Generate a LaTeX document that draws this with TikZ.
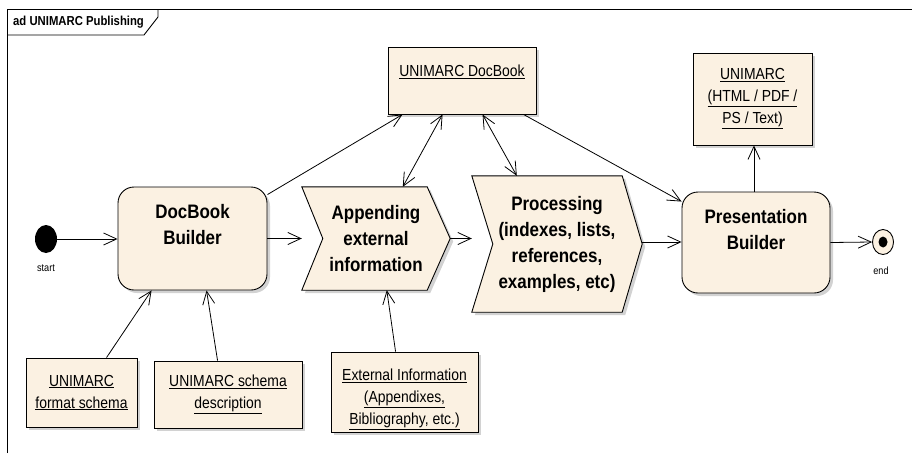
\documentclass[tikz,border=0pt]{standalone}
\usepackage{fontspec}
\setmainfont{Liberation Sans}[FakeStretch=0.87]
\usepackage{xcolor}
\usetikzlibrary{arrows.meta, shapes.geometric, shadows, backgrounds}

\definecolor{actfill}{RGB}{251,241,226}

\begin{document}
\begin{tikzpicture}[x=1pt, y=-1pt,
  every node/.style={inner sep=0pt},
  shade/.style={drop shadow={shadow xshift=3pt, shadow yshift=-3pt, fill=black!35}},
  act/.style={draw, fill=actfill, line width=0.9pt, rounded corners=16pt, shade},
  chev/.style={draw, fill=actfill, line width=0.9pt, shade},
  obj/.style={draw, fill=actfill, line width=0.9pt, align=center, shade,
    font=\fontsize{16}{22}\selectfont},
  objtxt/.style={align=center, font=\fontsize{16}{22}\selectfont},
  big/.style={align=center, font=\bfseries\fontsize{19.5}{26}\selectfont},
  small/.style={font=\fontsize{10.5}{12}\selectfont},
  flow/.style={line width=0.8pt, -{Straight Barb[length=13pt,width=12pt]}},
  both/.style={line width=0.8pt, {Straight Barb[length=13pt,width=12pt]}-{Straight Barb[length=13pt,width=12pt]}},
]
\useasboundingbox (0,0) rectangle (912,453);

% frame and its tab
\draw[line width=0.9pt] (7,453) -- (7,9) -- (912,9);
\draw[line width=0.9pt] (7,35) -- (144,35) -- (158,17) -- (158,9);
\node[anchor=west, font=\bfseries\fontsize{13}{15}\selectfont] (title) at (13,22) {ad UNIMARC Publishing};

% start and end
\node[ellipse, fill=black, minimum width=22pt, minimum height=28pt] (start) at (46,239) {};
\node[small] (startlbl) at (46,268) {start};
\node[ellipse, draw, fill=actfill, line width=0.9pt, minimum width=21pt, minimum height=25pt] (final) at (883,242) {};
\node[ellipse, fill=black, minimum width=9pt, minimum height=11pt] (finaldot) at (final) {};
\node[small] (finallbl) at (881,271) {end};

% actions
\node[act, minimum width=149pt, minimum height=103pt] (dbb) at (192.5,238.5) {};
\node[big] (dbbtxt) at (192.5,225) {DocBook\\Builder};

\node[big, minimum width=148pt, minimum height=103pt] (app) at (376,238.5) {Appending\\external\\information};
\node[big, minimum width=170pt, minimum height=136pt] (proc) at (557,244) {Processing\\(indexes, lists,\\references,\\examples, etc)};
\begin{pgfonlayer}{background}
\path[chev] (app.north west) -- ([xshift=-23pt]app.north east) -- (app.east)
  -- ([xshift=-23pt]app.south east) -- (app.south west) -- ([xshift=21pt]app.west) -- cycle;
\path[chev] (proc.north west) -- ([xshift=-20pt]proc.north east) -- (proc.east)
  -- ([xshift=-20pt]proc.south east) -- (proc.south west) -- ([xshift=21pt]proc.west) -- cycle;
\end{pgfonlayer}

\node[act, minimum width=148pt, minimum height=101pt] (pb) at (756,242.5) {};
\node[big] (pbtxt) at (756,230) {Presentation\\Builder};

% objects
\node[obj, minimum width=148pt, minimum height=67pt] (udb) at (462,80.5) {};
\node[objtxt] (udbtxt) at (462,72) {\underline{UNIMARC DocBook}};
\node[obj, minimum width=119pt, minimum height=92pt] (uout) at (752.5,99) {\underline{UNIMARC}\\\underline{(HTML / PDF /}\\\underline{PS / Text)}};
\node[obj, minimum width=111pt, minimum height=69pt] (ufs) at (81.5,392.5) {\underline{UNIMARC}\\\underline{format schema}};
\node[obj, minimum width=148pt, minimum height=67pt] (usd) at (228,394.5) {\underline{UNIMARC schema}\\\underline{description}};
\node[obj, minimum width=147pt, minimum height=80pt] (ext) at (404.5,392) {};
\node[objtxt] (exttxt) at (404.5,399) {\underline{External Information}\\\underline{(Appendixes,}\\\underline{Bibliography, etc.)}};

% control flow
\draw[flow] (start.east) -- (start.east -| dbb.west);
\draw[flow] (dbb.east) -- (app.west);
\draw[flow] (app.east) -- (app.east -| proc.west);
\draw[flow] ([yshift=2pt]proc.east) -- ([yshift=2pt]proc.east -| pb.west);
\draw[flow] (pb.east) -- (final.west);

% object flow
\draw[flow] ([yshift=-8pt]dbb.north east) -- ([xshift=15pt]udb.south west);
\draw[both] ([xshift=55pt]udb.south west) -- ([xshift=101pt]app.north west);
\draw[both] ([xshift=95pt]udb.south west) -- ([xshift=45pt]proc.north west);
\draw[flow] ([xshift=136pt]udb.south west) -- ([yshift=-10pt]pb.north west);
\draw[flow] ([xshift=-2pt]pb.north) -- ([xshift=1.5pt]uout.south);
\draw[flow] ([xshift=81pt]ufs.north west) -- ([xshift=34pt]dbb.south west);
\draw[flow] ([xshift=64pt]usd.north west) -- ([xshift=89pt]dbb.south west);
\draw[flow] ([xshift=65pt]ext.north west) -- ([xshift=85pt]app.south west);
\end{tikzpicture}
\end{document}
